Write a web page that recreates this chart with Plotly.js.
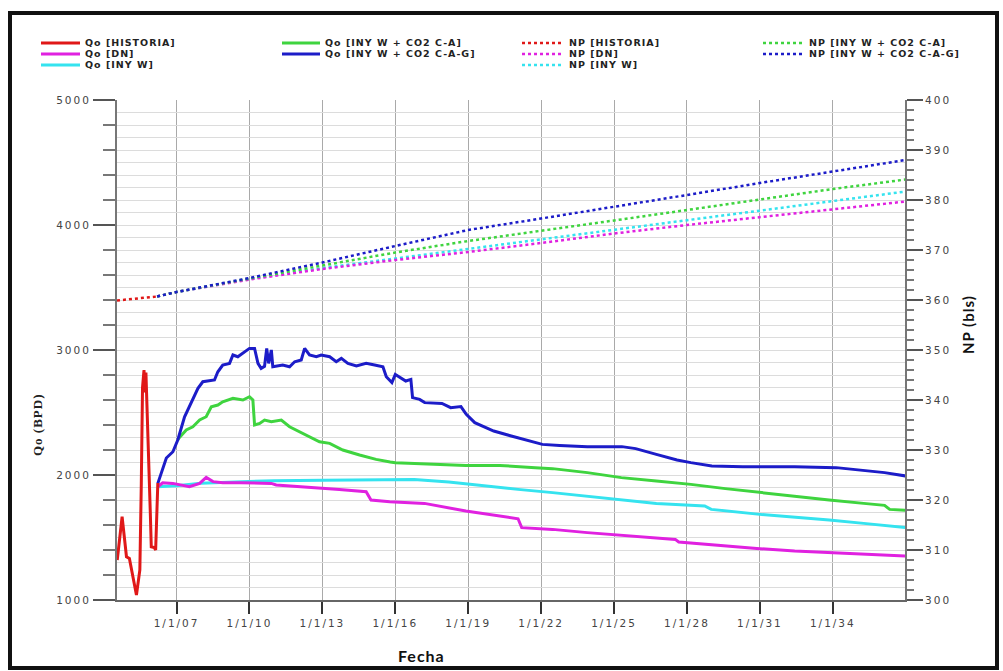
<!DOCTYPE html>
<html>
<head>
<meta charset="utf-8">
<script src="https://cdn.plot.ly/plotly-3.0.1.min.js"></script>
<style>
  html, body { margin: 0; padding: 0; background: #fff; }
  #chart { width: 1003px; height: 671px; }
  .xtick text, .ytick text, .y2tick text { letter-spacing: 2px; }
  .annotation-text { letter-spacing: 1px; }
</style>
</head>
<body>
<div id="chart"></div>
<script>
// ---------------- DATA ----------------
const xTickVals = [2007, 2010, 2013, 2016, 2019, 2022, 2025, 2028, 2031, 2034];
const xTickText = ['1/1/07', '1/1/10', '1/1/13', '1/1/16', '1/1/19', '1/1/22', '1/1/25', '1/1/28', '1/1/31', '1/1/34'];

const seriesNames = [
  'Qo [HISTORIA]', 'Qo [DN]', 'Qo [INY W]', 'Qo [INY W + CO2 C-A]', 'Qo [INY W + CO2 C-A-G]',
  'NP [HISTORIA]', 'NP [DN]', 'NP [INY W]', 'NP [INY W + CO2 C-A]', 'NP [INY W + CO2 C-A-G]'
];

// Qo [HISTORIA]
const qoHistYear = [2004.56, 2004.76, 2004.94, 2005.06, 2005.35, 2005.49, 2005.55, 2005.6, 2005.66, 2005.71, 2005.74, 2005.78, 2005.86, 2005.92, 2005.96, 2006.08, 2006.14, 2006.2, 2006.23];
const qoHistVal  = [1320, 1666, 1346, 1333, 1040, 1240, 1936, 2700, 2840, 2660, 2820, 2600, 2096, 1700, 1426, 1420, 1400, 1720, 1936];

// Qo [DN]
const qoDnYear = [2006.23, 2006.43, 2006.85, 2007.12, 2007.53, 2007.95, 2008.22, 2008.5, 2008.9, 2009.6, 2010.28, 2010.9, 2011.1, 2012.34, 2013.7, 2014.8, 2015.0, 2015.77, 2017.2, 2018.9, 2021.05, 2021.2, 2022.47, 2023.9, 2025.32, 2027.52, 2027.66, 2029.58, 2031.0, 2032.43, 2033.85, 2035.27, 2037.0];
const qoDnVal  = [1906, 1938, 1933, 1920, 1906, 1933, 1981, 1947, 1938, 1938, 1933, 1933, 1920, 1906, 1885, 1866, 1800, 1786, 1773, 1712, 1650, 1579, 1565, 1539, 1517, 1485, 1464, 1432, 1411, 1392, 1379, 1365, 1352];

// Qo [INY W]
const qoInyYear = [2006.23, 2007.0, 2008.0, 2009.0, 2010.0, 2011.0, 2013.0, 2015.36, 2016.78, 2018.2, 2019.63, 2021.05, 2022.47, 2023.9, 2025.32, 2026.74, 2028.73, 2029.0, 2031.0, 2032.43, 2033.85, 2035.27, 2037.0];
const qoInyVal  = [1906, 1915, 1935, 1940, 1948, 1955, 1958, 1960, 1965, 1944, 1912, 1885, 1859, 1832, 1800, 1773, 1752, 1725, 1685, 1664, 1640, 1613, 1579];

// Qo [INY W + CO2 C-A]
const qoCaYear = [2007.05, 2007.12, 2007.4, 2007.67, 2007.95, 2008.22, 2008.43, 2008.7, 2008.9, 2009.32, 2009.73, 2010.0, 2010.14, 2010.21, 2010.42, 2010.62, 2010.9, 2011.31, 2011.65, 2012.2, 2012.88, 2013.3, 2013.84, 2014.53, 2015.21, 2015.79, 2016.0, 2018.9, 2020.3, 2021.76, 2022.47, 2023.9, 2025.3, 2026.74, 2028.16, 2029.58, 2031.0, 2032.43, 2033.85, 2035.27, 2036.13, 2036.34, 2037.0];
const qoCaVal  = [2280, 2300, 2360, 2386, 2440, 2466, 2546, 2560, 2586, 2613, 2600, 2626, 2600, 2400, 2413, 2440, 2426, 2440, 2386, 2333, 2266, 2253, 2200, 2160, 2125, 2104, 2099, 2077, 2077, 2059, 2051, 2019, 1979, 1952, 1925, 1891, 1859, 1827, 1800, 1773, 1757, 1725, 1717];

// Qo [INY W + CO2 C-A-G]
const qoCagYear = [2006.23, 2006.37, 2006.58, 2006.85, 2007.05, 2007.33, 2007.6, 2007.88, 2008.08, 2008.56, 2008.7, 2008.9, 2009.18, 2009.32, 2009.52, 2009.73, 2010.0, 2010.21, 2010.35, 2010.48, 2010.62, 2010.71, 2010.79, 2010.9, 2010.96, 2011.37, 2011.65, 2011.86, 2012.13, 2012.27, 2012.47, 2012.75, 2012.95, 2013.3, 2013.57, 2013.78, 2014.05, 2014.4, 2014.8, 2015.15, 2015.49, 2015.63, 2015.72, 2015.86, 2016.0, 2016.21, 2016.43, 2016.64, 2016.71, 2017.0, 2017.21, 2017.92, 2018.28, 2018.7, 2018.92, 2019.27, 2020.05, 2020.77, 2021.48, 2022.05, 2022.76, 2023.9, 2025.32, 2025.89, 2026.74, 2027.59, 2028.16, 2029.02, 2030.3, 2032.43, 2034.14, 2035.56, 2036.13, 2037.0];
const qoCagVal  = [1933, 2013, 2136, 2186, 2280, 2466, 2573, 2693, 2746, 2760, 2826, 2880, 2893, 2960, 2946, 2973, 3013, 3013, 2893, 2853, 2870, 3013, 2893, 3000, 2866, 2880, 2866, 2906, 2920, 3013, 2960, 2946, 2960, 2946, 2906, 2933, 2893, 2872, 2893, 2880, 2866, 2786, 2765, 2739, 2805, 2779, 2752, 2765, 2619, 2605, 2579, 2573, 2539, 2547, 2485, 2419, 2352, 2312, 2272, 2245, 2237, 2227, 2227, 2211, 2165, 2120, 2099, 2072, 2067, 2067, 2059, 2032, 2019, 1992];

// NP series (right axis)
const npHistYear = [2004.55, 2005.4, 2006.2];
const npHistVal  = [359.9, 360.3, 360.7];
const npYear = [2006.2, 2007, 2010, 2013, 2016, 2019, 2022, 2025, 2028, 2031, 2034, 2037];
const npDnVal  = [360.7, 361.6, 364.1, 366.2, 368.0, 369.6, 371.4, 373.3, 375.0, 376.6, 378.1, 379.7];
const npInyVal = [360.7, 361.6, 364.2, 366.4, 368.3, 370.2, 372.2, 374.1, 375.9, 377.8, 379.8, 381.7];
const npCaVal  = [360.7, 361.6, 364.3, 366.9, 369.5, 371.8, 373.8, 375.9, 378.0, 380.1, 382.2, 384.1];
const npCagVal = [360.7, 361.6, 364.4, 367.5, 370.8, 374.0, 376.3, 378.6, 381.0, 383.4, 385.7, 388.0];

// ---------------- STYLE ----------------
const colors = {
  hist: '#e01818', dn: '#e021e0', iny: '#35e3ef', ca: '#3fd43f', cag: '#1c1cc8'
};

// plot-area geometry (pixels)
const L = 117, R = 905, T = 100, B = 600;
const px2x = px => (px - L) / (R - L);
const py2y = py => (B - py) / (B - T);

function qoTrace(name, x, y, color) {
  return { type: 'scatter', mode: 'lines', name, x, y, xaxis: 'x', yaxis: 'y',
           line: { color, width: 3 }, showlegend: false, hoverinfo: 'skip' };
}
function npTrace(name, x, y, color) {
  return { type: 'scatter', mode: 'lines', name, x, y, xaxis: 'x', yaxis: 'y2',
           line: { color, width: 2.5, dash: 'dot' }, showlegend: false, hoverinfo: 'skip' };
}

const traces = [
  { type: 'scatter', x: [null], y: [null], xaxis: 'x', yaxis: 'y3', showlegend: false, hoverinfo: 'skip' },
  qoTrace(seriesNames[2], qoInyYear, qoInyVal, colors.iny),
  qoTrace(seriesNames[1], qoDnYear, qoDnVal, colors.dn),
  qoTrace(seriesNames[3], qoCaYear, qoCaVal, colors.ca),
  qoTrace(seriesNames[4], qoCagYear, qoCagVal, colors.cag),
  qoTrace(seriesNames[0], qoHistYear, qoHistVal, colors.hist),
  npTrace(seriesNames[7], npYear, npInyVal, colors.iny),
  npTrace(seriesNames[6], npYear, npDnVal, colors.dn),
  npTrace(seriesNames[8], npYear, npCaVal, colors.ca),
  npTrace(seriesNames[9], npYear, npCagVal, colors.cag),
  npTrace(seriesNames[5], npHistYear, npHistVal, colors.hist)
];

// ---------------- custom legend (4 columns) ----------------
const legCols = [ {x0: 41, x1: 80, tx: 83}, {x0: 282, x1: 320, tx: 323},
                  {x0: 522, x1: 564, tx: 567}, {x0: 763, x1: 804, tx: 807} ];
const legRows = [43, 54, 65];
const legendSlots = [
  { i: 0, c: 0, r: 0, color: colors.hist, dot: false },
  { i: 1, c: 0, r: 1, color: colors.dn,   dot: false },
  { i: 2, c: 0, r: 2, color: colors.iny,  dot: false },
  { i: 3, c: 1, r: 0, color: colors.ca,   dot: false },
  { i: 4, c: 1, r: 1, color: colors.cag,  dot: false },
  { i: 5, c: 2, r: 0, color: colors.hist, dot: true },
  { i: 6, c: 2, r: 1, color: colors.dn,   dot: true },
  { i: 7, c: 2, r: 2, color: colors.iny,  dot: true },
  { i: 8, c: 3, r: 0, color: colors.ca,   dot: true },
  { i: 9, c: 3, r: 1, color: colors.cag,  dot: true }
];

const shapes = [];
const annotations = [];
legendSlots.forEach(s => {
  const col = legCols[s.c], py = legRows[s.r];
  shapes.push({ type: 'line', xref: 'paper', yref: 'paper',
    x0: px2x(col.x0), x1: px2x(col.x1), y0: py2y(py), y1: py2y(py),
    line: { color: s.color, width: s.dot ? 2.5 : 3, dash: s.dot ? 'dot' : 'solid' } });
  annotations.push({ xref: 'paper', yref: 'paper', x: px2x(col.tx), y: py2y(py),
    xanchor: 'left', yanchor: 'middle', showarrow: false, text: seriesNames[s.i],
    font: { family: 'DejaVu Sans', size: 9.5, color: '#222', weight: 'bold' } });
});

// frame around the figure
shapes.push({ type: 'rect', xref: 'paper', yref: 'paper', layer: 'above',
  x0: px2x(10), x1: px2x(997), y0: py2y(668), y1: py2y(13),
  line: { color: '#111', width: 4 }, fillcolor: 'rgba(0,0,0,0)' });

// axis titles
annotations.push({ xref: 'paper', yref: 'paper', x: px2x(421), y: py2y(655),
  xanchor: 'center', yanchor: 'middle', showarrow: false, text: 'Fecha',
  font: { family: 'Lato', size: 16, color: '#111', weight: 'bold' } });
annotations.push({ xref: 'paper', yref: 'paper', x: px2x(968), y: py2y(325),
  xanchor: 'center', yanchor: 'middle', showarrow: false, text: 'NP (bls)', textangle: -90,
  font: { family: 'Lato', size: 15, color: '#111', weight: 'bold' } });
annotations.push({ xref: 'paper', yref: 'paper', x: px2x(37), y: py2y(425),
  xanchor: 'center', yanchor: 'middle', showarrow: false, text: 'Qo (BPD)', textangle: -90,
  font: { family: 'Liberation Serif', size: 13, color: '#222', weight: 'bold' } });

const tickFont = { family: 'DejaVu Sans', size: 10.5, color: '#444' };

const layout = {
  width: 1003, height: 671,
  margin: { l: L, r: 1003 - R, t: T, b: 671 - B },
  paper_bgcolor: '#ffffff', plot_bgcolor: '#ffffff',
  showlegend: false,
  xaxis: {
    range: [2004.55, 2036.97], tickmode: 'array', tickvals: xTickVals, ticktext: xTickText,
    ticks: 'outside', ticklen: 12, tickwidth: 2, tickcolor: '#333',
    showline: true, linecolor: '#666', linewidth: 2, mirror: false,
    showgrid: true, gridcolor: '#a9a9a9', gridwidth: 1, zeroline: false,
    tickfont: tickFont, fixedrange: true
  },
  yaxis: {
    range: [1000, 5000], tickmode: 'linear', tick0: 1000, dtick: 1000,
    ticks: 'outside', ticklen: 22, tickwidth: 2, tickcolor: '#555',
    minor: { dtick: 200, tick0: 1000, ticks: 'outside', ticklen: 12, tickwidth: 1.5, tickcolor: '#777',
             showgrid: true, gridcolor: '#c8c8c8', gridwidth: 1 },
    showline: true, linecolor: '#777', linewidth: 2,
    showgrid: true, gridcolor: '#bdbdbd', gridwidth: 1, zeroline: false,
    tickfont: tickFont, fixedrange: true
  },
  yaxis3: {
    overlaying: 'y', side: 'left', range: [1000, 5000], tickmode: 'linear', tick0: 1000, dtick: 100,
    showticklabels: false, ticks: '', showline: false, zeroline: false,
    showgrid: true, gridcolor: '#dcdcdc', gridwidth: 1, fixedrange: true
  },
  yaxis2: {
    overlaying: 'y', side: 'right', range: [300, 400], tickmode: 'linear', tick0: 300, dtick: 10,
    ticks: 'outside', ticklen: 16, tickwidth: 2, tickcolor: '#555',
    minor: { dtick: 2, tick0: 300, ticks: 'outside', ticklen: 7, tickwidth: 1.5, tickcolor: '#777', showgrid: false },
    showline: true, linecolor: '#777', linewidth: 2,
    showgrid: false, zeroline: false, tickfont: tickFont, fixedrange: true
  },
  shapes, annotations
};

Plotly.newPlot('chart', traces, layout, { staticPlot: true, displayModeBar: false });
</script>
</body>
</html>
